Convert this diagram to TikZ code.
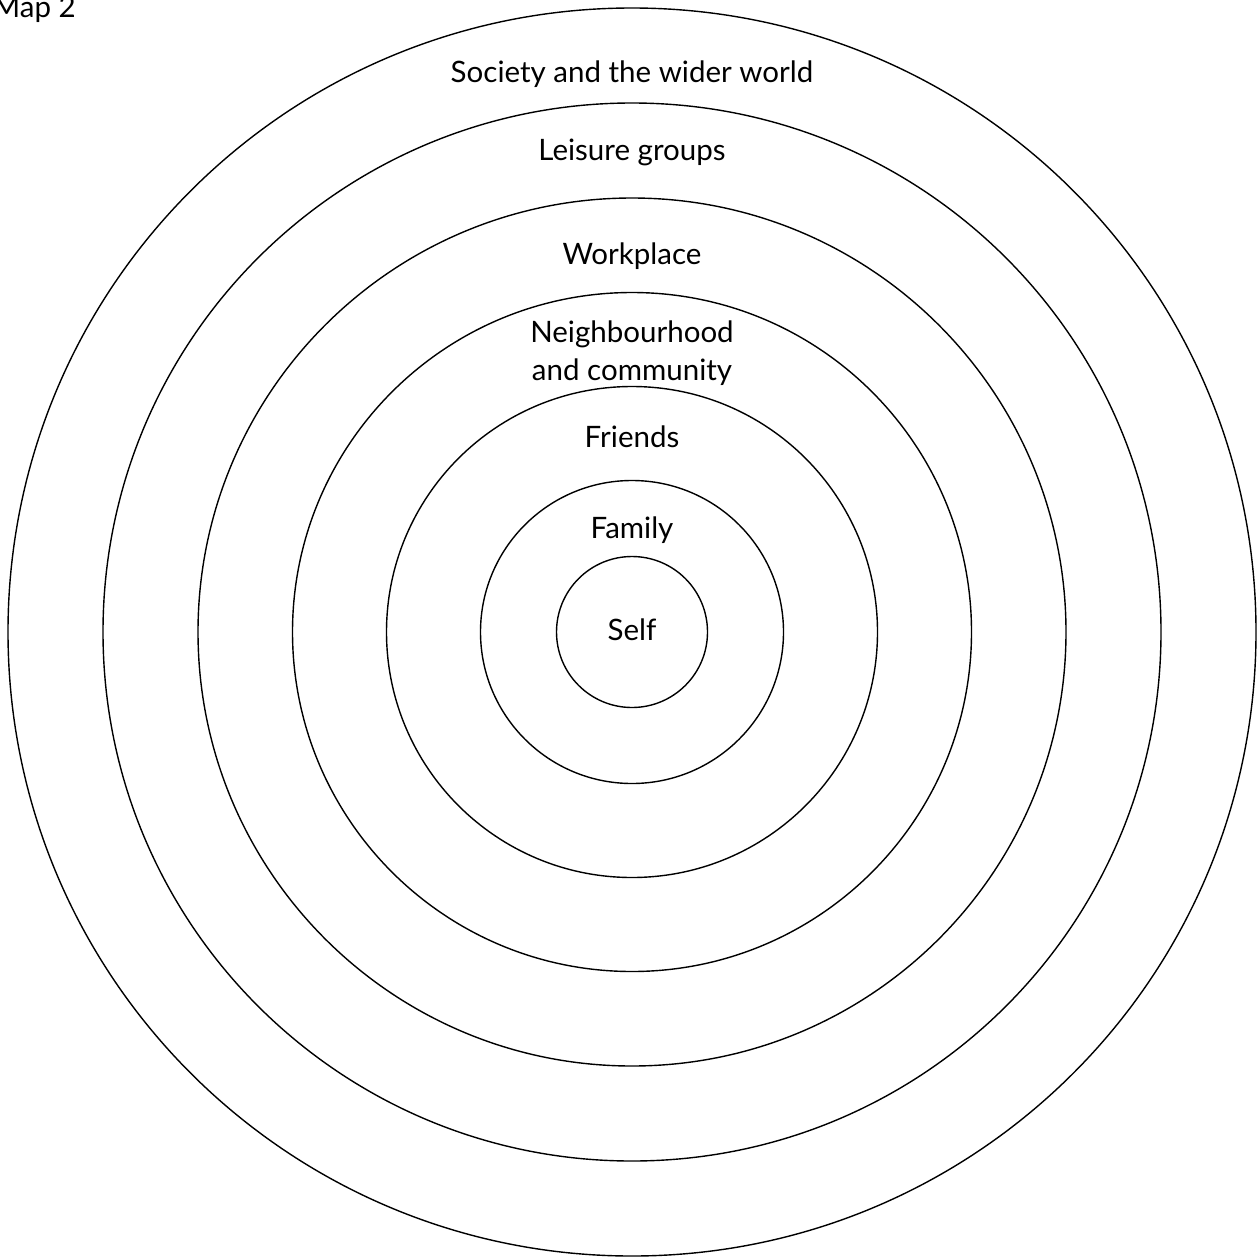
\documentclass[tikz,border=0pt]{standalone}
\usepackage{fontspec}
\setmainfont{Lato}
\begin{document}
\begin{tikzpicture}[x=1pt,y=-1pt,
  ring/.style={draw=black,line width=1.4pt,circle,inner sep=0pt},
  lbl/.style={anchor=base,inner sep=0pt,font=\fontsize{29.5}{36}\selectfont,align=center}]
\useasboundingbox (0,0) rectangle (1260,1258);
\coordinate (c) at (632,632);
\node[ring,minimum size=151pt] (self) at (c) {};
\node[ring,minimum size=303pt] (family) at (c) {};
\node[ring,minimum size=491pt] (friends) at (c) {};
\node[ring,minimum size=679pt] (neigh) at (c) {};
\node[ring,minimum size=868pt] (work) at (c) {};
\node[ring,minimum size=1058pt] (leisure) at (c) {};
\node[ring,minimum size=1248pt] (society) at (c) {};
\node[lbl,anchor=base east] (map) at (76,17) {Map 2};
\node[lbl] (tsoc) at (632,82) {Society and the wider world};
\node[lbl] (tlei) at (632,160) {Leisure groups};
\node[lbl] (twork) at (632,264) {Workplace};
\node[lbl] (tn1) at (632,342) {Neighbourhood};
\node[lbl] (tn2) at (632,380) {and community};
\node[lbl] (tfr) at (632,447) {Friends};
\node[lbl] (tfam) at (632,538) {Family};
\node[lbl] (tself) at (632,640) {Self};
\end{tikzpicture}
\end{document}
